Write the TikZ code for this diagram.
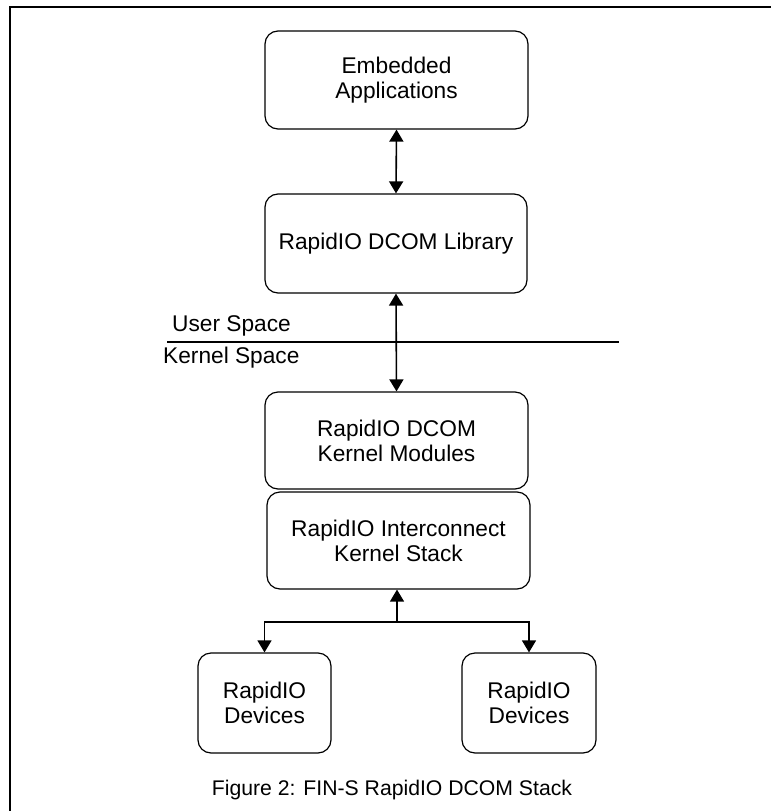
\documentclass[tikz,border=0pt]{standalone}
\usepackage{fontspec}
\setmainfont{Liberation Sans}
\usepackage{tikz}
\usetikzlibrary{arrows.meta}
\tikzstyle{layerbox} = [draw=black, line width=1.2pt, rectangle, rounded corners=13pt, align=center, inner sep=0pt, font=\fontsize{22.7}{25}\selectfont]
\tikzstyle{link} = [line width=1.6pt, {Triangle[length=12pt,width=14pt]}-{Triangle[length=12pt,width=14pt]}]
\tikzstyle{uplink} = [line width=1.3pt, -{Triangle[length=12pt,width=14pt]}]

\begin{document}
\begin{tikzpicture}[x=1pt,y=-1pt]
\useasboundingbox (0,0) rectangle (771,811);
\draw[line width=2pt] (10,811) |- (771,7); % frame
\node [layerbox, minimum width=263pt, minimum height=98pt] (app) at (396.5,80) {Embedded\\Applications};
\node [layerbox, minimum width=262pt, minimum height=99pt] (lib) at (396,243.5) {RapidIO DCOM Library};
\node [layerbox, minimum width=263pt, minimum height=97pt] (kmod) at (396.5,440.5) {RapidIO DCOM\\Kernel Modules};
\node [layerbox, minimum width=263pt, minimum height=97pt] (stack) at (398.5,540.5) {RapidIO Interconnect\\Kernel Stack};
\node [layerbox, minimum width=133pt, minimum height=100pt] (devL) at (264.5,703) {RapidIO\\Devices};
\node [layerbox, minimum width=134pt, minimum height=100pt] (devR) at (529,703) {RapidIO\\Devices};

% user / kernel boundary
\coordinate (sepL) at (167,342);
\coordinate (sepR) at (619,342);
\draw[line width=1.3pt] (sepL) -- (sepR);
\node [anchor=west, inner sep=0pt, font=\fontsize{22.7}{25}\selectfont] (user) at (172,326) {User Space};
\node [anchor=west, inner sep=0pt, font=\fontsize{22.7}{25}\selectfont] (kern) at (163,358) {Kernel Space};

\draw [link] (app.south) -- (lib.north);
\draw [link] (lib.south) -- (kmod.north);

\coordinate (split) at (397,622);
\draw [uplink] (split) -- (split |- stack.south);
\draw [uplink] (split) -| (devL.north);
\draw [uplink] (split) -| (devR.north);

\node [font=\fontsize{21.2}{25}\selectfont, inner sep=0pt] (caption) at (392,790) {Figure 2: FIN-S RapidIO DCOM Stack};
\end{tikzpicture}
\end{document}
